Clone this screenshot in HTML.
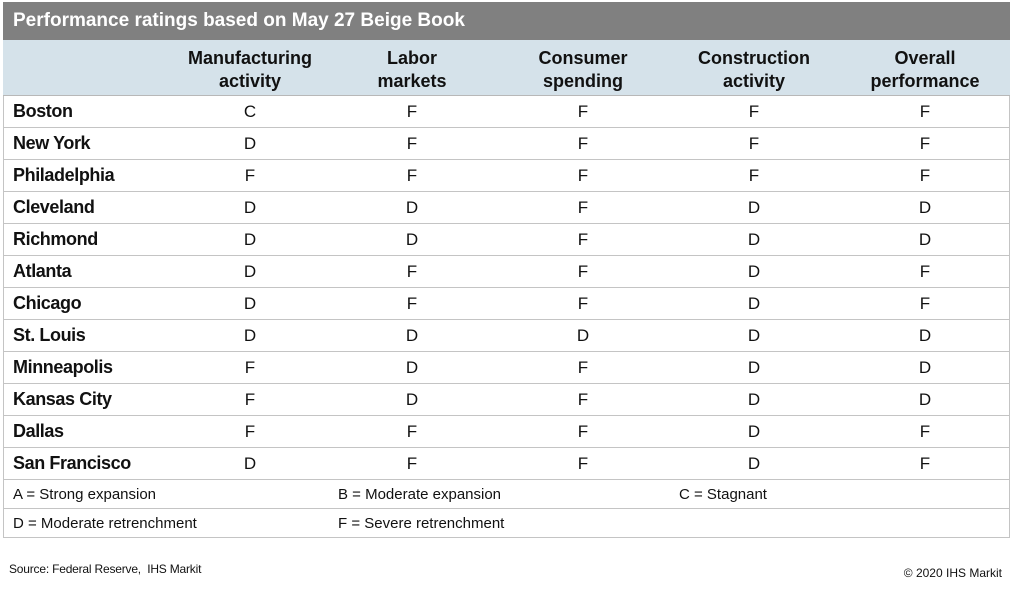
<!DOCTYPE html>
<html><head><meta charset="utf-8"><style>
body{margin:0;width:1012px;height:589px;background:#fff;font-family:"Liberation Sans",Arial,sans-serif;position:relative;overflow:hidden}
.a{position:absolute}
.title{left:3px;top:2px;width:1007px;height:38px;background:#808080;color:#fff;font-weight:bold;font-size:19px;line-height:38px;box-sizing:border-box;padding-left:10px}
.hdr{left:3px;top:40px;width:1007px;height:56px;background:#d5e2ea;border-bottom:1px solid #b8b8b8;box-sizing:border-box}
.hc{top:47px;width:170px;margin-left:-85px;text-align:center;font-weight:bold;font-size:18px;line-height:23px;color:#111}
.row{left:3px;width:1007px;height:32px;border-bottom:1px solid #c4c4c4;border-left:1px solid #c4c4c4;border-right:1px solid #c4c4c4;box-sizing:border-box}
.nm{left:13px;font-weight:bold;font-size:18px;line-height:31px;color:#111;letter-spacing:-0.4px}
.g{width:40px;margin-left:-20px;text-align:center;font-size:17px;line-height:32px;color:#111}
.lg{font-size:15px;line-height:29px;color:#111}
</style></head><body>
<div class="a title">Performance ratings based on May 27 Beige Book</div>
<div class="a hdr"></div>
<div class="a hc" style="left:250px">Manufacturing<br>activity</div>
<div class="a hc" style="left:412px">Labor<br>markets</div>
<div class="a hc" style="left:583px">Consumer<br>spending</div>
<div class="a hc" style="left:754px">Construction<br>activity</div>
<div class="a hc" style="left:925px">Overall<br>performance</div>
<div id="rows"></div>
<div class="a row" style="top:480px;height:29px"></div>
<div class="a row" style="top:509px;height:29px"></div>
<div class="a lg" style="left:13px;top:480px">A = Strong expansion</div>
<div class="a lg" style="left:338px;top:480px">B = Moderate expansion</div>
<div class="a lg" style="left:679px;top:480px">C = Stagnant</div>
<div class="a lg" style="left:13px;top:509px">D = Moderate retrenchment</div>
<div class="a lg" style="left:338px;top:509px">F = Severe retrenchment</div>
<div class="a" style="left:9px;top:562px;font-size:12px;color:#111;letter-spacing:-0.2px">Source: Federal Reserve,&nbsp; IHS Markit</div>
<div class="a" style="right:10px;top:566px;font-size:12px;color:#111">© 2020 IHS Markit</div>
<script>
const districts=["Boston","New York","Philadelphia","Cleveland","Richmond","Atlanta","Chicago","St. Louis","Minneapolis","Kansas City","Dallas","San Francisco"];
const manufacturing=["C","D","F","D","D","D","D","D","F","F","F","D"];
const labor=["F","F","F","D","D","F","F","D","D","D","F","F"];
const consumer=["F","F","F","F","F","F","F","D","F","F","F","F"];
const construction=["F","F","F","D","D","D","D","D","D","D","D","D"];
const overall=["F","F","F","D","D","F","F","D","D","D","F","F"];
const cols=[manufacturing,labor,consumer,construction,overall];
const colX=[250,412,583,754,925];
const c=document.getElementById('rows');
districts.forEach((d,i)=>{
  const top=96+i*32;
  const r=document.createElement('div');r.className='a row';r.style.top=top+'px';
  
  
  c.appendChild(r);
  const n=document.createElement('div');n.className='a nm';n.style.top=top+'px';n.textContent=d;
  
  
  c.appendChild(n);
  cols.forEach((col,j)=>{
    const g=document.createElement('div');g.className='a g';g.style.top=top+'px';g.style.left=colX[j]+'px';g.textContent=col[i];
    
    
    c.appendChild(g);
  });
});
</script>
</body></html>
